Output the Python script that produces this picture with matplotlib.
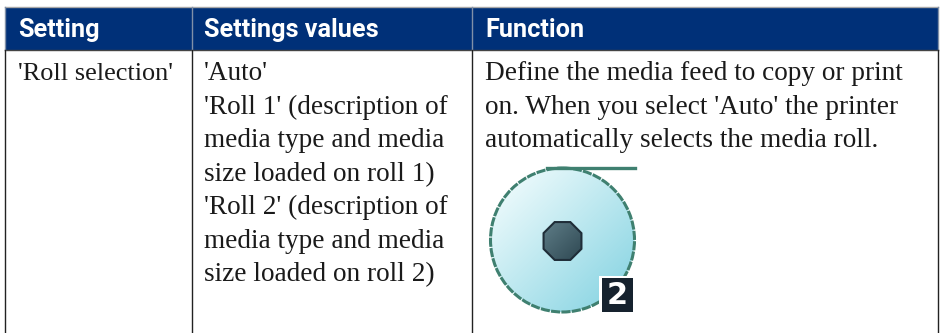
import matplotlib.pyplot as plt
import matplotlib.patches as mpatches
import numpy as np

# table text
headers = ['Setting', 'Settings values', 'Function']
setting_lines = ["'Roll selection'"]
value_lines = ["'Auto'",
               "'Roll 1' (description of",
               "media type and media",
               "size loaded on roll 1)",
               "'Roll 2' (description of",
               "media type and media",
               "size loaded on roll 2)"]
function_lines = ["Define the media feed to copy or print",
                  "on. When you select 'Auto' the printer",
                  "automatically selects the media roll."]
badge_label = '2'

col_edges = [5, 192, 472, 938]
text_x = [18, 204, 485]
body_sizes = [18.9, 19.65, 19.65]
first_base = 80.5
line_step = 33.4

fig = plt.figure(figsize=(9.45, 3.33), dpi=100)
ax = fig.add_axes([0, 0, 1, 1])
ax.set_xlim(0, 945)
ax.set_ylim(333, 0)
ax.axis('off')

# header band
ax.add_patch(mpatches.Rectangle((5, 7), 933, 43, fc='#003078', ec='none'))
ax.plot([5, 938], [7, 7], color='#a8a8a8', lw=1)
ax.plot([5, 938], [50, 50], color='#444444', lw=1)
for x in col_edges:
    ax.plot([x, x], [7, 50], color='#8090a8', lw=1)
    ax.plot([x, x], [50, 333], color='#222222', lw=1)

for x, h in zip(text_x, headers):
    ax.text(x, 37, h, family='Roboto', weight='bold', fontsize=18.2,
            color='white', va='baseline')

for col, size, lines in zip(text_x, body_sizes, [setting_lines, value_lines, function_lines]):
    for i, s in enumerate(lines):
        ax.text(col, first_base + i * line_step, s, family='Liberation Serif',
                fontsize=size, color='#1a1a1a', va='baseline')

# roll icon
cx, cy, r = 562.5, 240, 72
grid = np.linspace(0, 1, 200)
gx, gy = np.meshgrid(grid, grid)
shade = (gx + gy) / 2
c0 = np.array([0.98, 1.0, 1.0])
c1 = np.array([0.50, 0.82, 0.88])
img = c0 + (c1 - c0) * shade[..., None]
disc = mpatches.Circle((cx, cy), r, fc='none', ec='#3f8070', lw=2.2, ls=(0, (3, 0.4)))
im = ax.imshow(img, extent=[cx - r, cx + r, cy + r, cy - r], zorder=2, aspect='auto')
im.set_clip_path(mpatches.Circle((cx, cy), r, transform=ax.transData))
ax.add_patch(disc)
disc.set_zorder(3)
ax.plot([547, 635], [168, 168], color='#3f8070', lw=2.4, zorder=3)

hub_img = np.array([0.38, 0.50, 0.54]) + (np.array([0.17, 0.27, 0.31]) - np.array([0.38, 0.50, 0.54])) * shade[..., None]
hub = mpatches.RegularPolygon((cx, cy + 1), 8, radius=20.5, orientation=np.pi / 8,
                              fc='none', ec='#1f2d38', lw=1.5, zorder=5)
hi = ax.imshow(hub_img, extent=[cx - 21, cx + 21, cy + 22, cy - 20], zorder=4, aspect='auto')
ax.add_patch(hub)
hi.set_clip_path(mpatches.RegularPolygon((cx, cy + 1), 8, radius=20.5, orientation=np.pi / 8,
                                         transform=ax.transData))

# white notch + badge
ax.add_patch(mpatches.Rectangle((599, 276), 37, 39, fc='white', ec='none', zorder=6))
ax.add_patch(mpatches.Rectangle((602, 278), 31, 34, fc='#16222e', ec='none', zorder=7))
ax.text(617.5, 295, badge_label, family='DejaVu Sans', weight='bold', fontsize=22,
        color='white', ha='center', va='center', zorder=8)

ax.set_xlim(0, 945)
ax.set_ylim(333, 0)
fig.savefig('out.png', dpi=100)
